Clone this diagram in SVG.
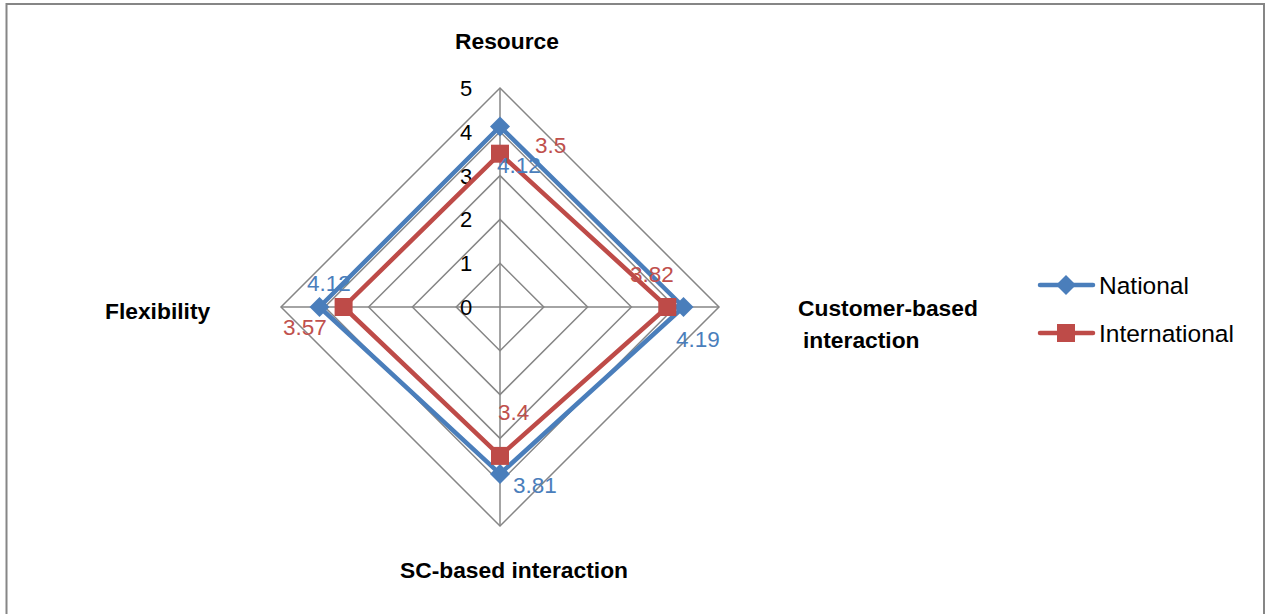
<svg xmlns="http://www.w3.org/2000/svg" width="1266" height="614" viewBox="0 0 1266 614">
  <style>
    .grid { fill: none; stroke: #868686; stroke-width: 1.5; }
    .tick { font-family: "Liberation Sans", Arial, sans-serif; font-size: 22px; fill: #000; text-anchor: middle; }
    .cat { font-family: "Liberation Sans", Arial, sans-serif; font-size: 22.8px; font-weight: bold; fill: #000; }
    .lbl { font-family: "Liberation Sans", Arial, sans-serif; font-size: 22.5px; }
    .blue { fill: #4A7EBB; }
    .red { fill: #C0504D; }
    .nat { fill: none; stroke: #4A7EBB; stroke-width: 4.5; stroke-linejoin: round; }
    .intl { fill: none; stroke: #BE4B48; stroke-width: 4.5; stroke-linejoin: round; }
    .legtext { font-family: "Liberation Sans", Arial, sans-serif; font-size: 24.5px; fill: #000; }
  </style>
  <defs>
    <path id="diamond" d="M0,-10 L10,0 L0,10 L-10,0 Z" fill="#4A7EBB"/>
    <rect id="square" x="-9" y="-9" width="18" height="18" fill="#BE4B48"/>
  </defs>

  <rect width="1266" height="614" fill="#fff"/>
  <rect x="6.5" y="4" width="1257.5" height="620" fill="none" stroke="#868686" stroke-width="2"/>

  <!-- radar grid: centre (500,307), 43.8 px per unit -->
  <g id="grid">
    <polygon class="grid" points="500,263.2 543.8,307 500,350.8 456.2,307"/>
    <polygon class="grid" points="500,219.4 587.6,307 500,394.6 412.4,307"/>
    <polygon class="grid" points="500,175.6 631.4,307 500,438.4 368.6,307"/>
    <polygon class="grid" points="500,131.8 675.2,307 500,482.2 324.8,307"/>
    <polygon class="grid" points="500,88 719,307 500,526 281,307"/>
    <line class="grid" x1="500" y1="88" x2="500" y2="526"/>
    <line class="grid" x1="281" y1="307" x2="719" y2="307"/>
  </g>

  <g id="ticks">
    <text class="tick" x="466" y="315">0</text>
    <text class="tick" x="466" y="271">1</text>
    <text class="tick" x="466" y="227">2</text>
    <text class="tick" x="466" y="184">3</text>
    <text class="tick" x="466" y="140">4</text>
    <text class="tick" x="466" y="96">5</text>
  </g>

  <g id="categories">
    <text class="cat" x="507" y="49" text-anchor="middle">Resource</text>
    <text class="cat" x="798" y="316">Customer-based</text>
    <text class="cat" x="803" y="348">interaction</text>
    <text class="cat" x="514" y="578" text-anchor="middle">SC-based interaction</text>
    <text class="cat" x="105" y="319">Flexibility</text>
  </g>

  <!-- series lines -->
  <g id="connectors">
    <polygon class="nat" points="500,126.5 683.5,307 500,473.9 319.5,307"/>
    <polygon class="intl" points="500,153.7 667.3,307 500,455.9 343.6,307"/>
  </g>

  <g id="national">
    <use href="#diamond" x="500" y="126.5"/>
    <use href="#diamond" x="683.5" y="307"/>
    <use href="#diamond" x="500" y="473.9"/>
    <use href="#diamond" x="319.5" y="307"/>
  </g>
  <g id="international">
    <use href="#square" x="500" y="153.7"/>
    <use href="#square" x="667.3" y="307"/>
    <use href="#square" x="500" y="455.9"/>
    <use href="#square" x="343.6" y="307"/>
  </g>

  <g id="data-labels">
    <text class="lbl blue" x="497" y="173">4.12</text>
    <text class="lbl red" x="535" y="153">3.5</text>
    <text class="lbl red" x="630" y="282">3.82</text>
    <text class="lbl blue" x="676" y="347">4.19</text>
    <text class="lbl blue" x="307" y="291">4.12</text>
    <text class="lbl red" x="283" y="335">3.57</text>
    <text class="lbl red" x="498" y="420">3.4</text>
    <text class="lbl blue" x="513" y="493">3.81</text>
  </g>

  <g id="legend">
    <line x1="1040" y1="285" x2="1093" y2="285" stroke="#4A7EBB" stroke-width="4.5" stroke-linecap="round"/>
    <use href="#diamond" x="1066" y="285"/>
    <text class="legtext" x="1099" y="294">National</text>
    <line x1="1040" y1="333" x2="1093" y2="333" stroke="#BE4B48" stroke-width="4.5" stroke-linecap="round"/>
    <use href="#square" x="1066" y="333"/>
    <text class="legtext" x="1099" y="342">International</text>
  </g>
</svg>
